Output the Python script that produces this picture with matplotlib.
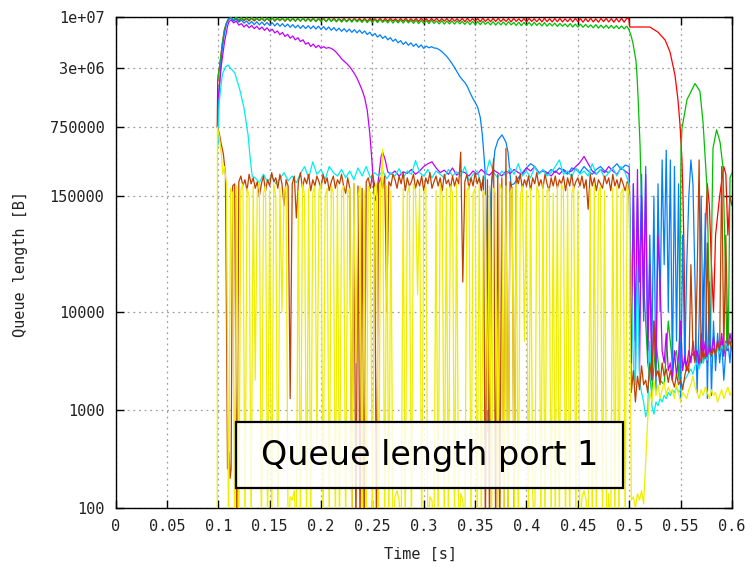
# -*- coding: utf-8 -*-
import numpy as np
import matplotlib
matplotlib.use('Agg')
import matplotlib.pyplot as plt
from matplotlib.patches import Rectangle
from matplotlib.ticker import FixedLocator, FixedFormatter, NullLocator

### queue occupancy of port 1 per flow, in kB
### (anything under 0.1 kB lies below the axis and gets clipped)
### evenly sampled stretches are given as start time + step + values

# ---- red flow
red_rise_t = [0.099, 0.0995, 0.102, 0.104, 0.106, 0.108, 0.110]
red_rise_kb = [760, 2300, 3600, 5400, 7400, 8700, 9500]
red_top_t0, red_top_dt = 0.1125, 0.0025
red_top_kb = [
    9700, 9150, 9750, 9100, 9700, 9150, 9650, 9100, 9700, 9100,
    9650, 9150, 9700, 9050, 9650, 9100, 9750, 9050, 9650, 9150,
    9700, 9050, 9650, 9100, 9700, 9050, 9600, 9100, 9700, 9050,
    9650, 9150, 9700, 9050, 9650, 9100, 9700, 9000, 9650, 9100,
    9700, 9050, 9600, 9100, 9700, 9000, 9650, 9050, 9700, 9100,
    9650, 9050, 9700, 9000, 9650, 9100, 9600, 9050, 9700, 9000,
    9650, 9050, 9700, 9100, 9600, 9000, 9650, 9050, 9700, 9000,
    9600, 9050, 9650, 9000, 9700, 9050, 9600, 9000, 9650, 9050,
    9700, 9000, 9600, 9050, 9650, 8950, 9700, 9050, 9600, 9000,
    9650, 8950, 9700, 9000, 9600, 9050, 9650, 8950, 9700, 9000,
    9600, 8950, 9650, 9000, 9700, 8950, 9600, 9000, 9650, 8900,
    9700, 9000, 9600, 8950, 9650, 8900, 9700, 9000, 9600, 8950,
    9650, 8900, 9700, 8950, 9600, 8900, 9650, 8950, 9700, 8900,
    9600, 8950, 9650, 8900, 9700, 8950, 9600, 8850, 9650, 8950,
    9700, 8900, 9600, 8850, 9650, 8950, 9700, 8900, 9600, 8850,
    9650, 8900, 9700, 8850, 9650]
red_end_t = [0.4995, 0.5005, 0.52, 0.528, 0.535, 0.5397, 0.5445, 0.5474,
             0.5494, 0.5513, 0.5523, 0.5533, 0.5545, 0.556, 0.56, 0.565,
             0.57, 0.574, 0.576, 0.578, 0.58, 0.582, 0.584, 0.588, 0.592,
             0.594, 0.596, 0.598, 0.6]
red_end_kb = [9700, 7900, 7900, 7000, 5800, 4390, 2560, 1440, 800, 350,
              150, 40, 3, 2.5, 3.5, 4, 3, 60, 200, 120,
              30, 10, 60, 150, 300, 250, 60, 150, 120]

# ---- green flow
green_rise_t = [0.0995, 0.102, 0.104, 0.106, 0.108, 0.110]
green_rise_kb = [2300, 3600, 5400, 7400, 8700, 9600]
green_top_t0, green_top_dt = 0.1125, 0.0025
green_top_kb = [
    9900, 9300, 9950, 9250, 9900, 9300, 9850, 9250, 9900, 9300,
    9800, 9200, 9850, 9150, 9800, 9200, 9850, 9150, 9800, 9200,
    9700, 9100, 9750, 9050, 9700, 9100, 9700, 9050, 9750, 9100,
    9600, 9000, 9650, 8950, 9600, 9000, 9600, 8950, 9650, 9000,
    9500, 8900, 9550, 8850, 9500, 8900, 9500, 8850, 9550, 8900,
    9400, 8800, 9450, 8750, 9400, 8800, 9400, 8750, 9450, 8800,
    9300, 8700, 9350, 8650, 9300, 8700, 9300, 8650, 9350, 8700,
    9200, 8600, 9250, 8550, 9200, 8600, 9200, 8550, 9250, 8600,
    9100, 8500, 9150, 8450, 9100, 8500, 9100, 8450, 9150, 8500,
    9000, 8400, 9050, 8350, 9000, 8400, 9000, 8350, 9050, 8400,
    8900, 8300, 8950, 8250, 8900, 8300, 8900, 8250, 8950, 8300,
    8800, 8200, 8850, 8150, 8800, 8200, 8800, 8150, 8850, 8200,
    8700, 8100, 8750, 8050, 8650, 8100, 8650, 8000, 8600, 8050,
    8500, 7950, 8550, 7900, 8450, 7900, 8450, 7850, 8400, 7850,
    8300, 7750, 8350, 7700, 8250, 7700, 8250, 7650, 8200, 7650,
    8150, 7600, 8100, 7550, 8050]
green_end_t = [0.4995, 0.5017, 0.5036, 0.5065, 0.5075, 0.5085, 0.5095,
               0.5105, 0.5114, 0.5124, 0.514, 0.518, 0.522, 0.526, 0.53,
               0.534, 0.538, 0.542, 0.546, 0.5485, 0.5504, 0.5513, 0.5562,
               0.564, 0.5688, 0.5718, 0.5737, 0.5757, 0.5776, 0.579,
               0.5805, 0.5815, 0.585, 0.5884, 0.5913, 0.5935, 0.595,
               0.5965, 0.5981, 0.6]
green_end_kb = [7500, 6500, 5400, 3600, 2600, 1600, 900, 500, 220, 100,
                20, 3, 1.5, 5, 2, 1.8, 8, 3, 4, 2,
                443, 730, 1440, 2100, 1750, 850, 400, 180, 20, 4,
                100, 460, 710, 530, 290, 30, 4, 6, 230, 260]

# ---- blue flow
blue_rise_t = [0.0995, 0.1, 0.102, 0.104, 0.106, 0.108, 0.110]
blue_rise_kb = [500, 1200, 2800, 4800, 6800, 8500, 9500]
blue_top_t0, blue_top_dt = 0.1125, 0.0025
blue_top_kb = [
    9800, 9100, 9500, 8850, 9300, 8650, 9100, 8450, 9000, 8350,
    8950, 8300, 8880, 8250, 8800, 8180, 8750, 8100, 8650, 8030,
    8550, 7950, 8450, 7850, 8350, 7750, 8250, 7650, 8200, 7620,
    8150, 7580, 8100, 7530, 8050, 7490, 7980, 7400, 7900, 7320,
    7800, 7230, 7700, 7140, 7600, 7060, 7520, 6970, 7430, 6890,
    7340, 6810, 7200, 6620, 6990, 6420, 6790, 6240, 6580, 6050,
    6380, 5850, 6160, 5650, 5950, 5450, 5740, 5260, 5570, 5140,
    5450, 5020, 5320, 4900, 5190, 4780, 5050, 4850, 4980, 4830]
blue_fall_t = [0.3125, 0.315, 0.3175, 0.32, 0.3225, 0.325, 0.3275, 0.33,
               0.3325, 0.335, 0.3375, 0.34, 0.3425, 0.345, 0.3475, 0.35,
               0.3525, 0.355, 0.357, 0.3585, 0.3596, 0.3605, 0.3615,
               0.3625, 0.3635, 0.365, 0.3664, 0.3693, 0.3723, 0.3762,
               0.38, 0.382, 0.385]
blue_fall_kb = [4800, 4650, 4450, 4200, 3950, 3650, 3350, 3050, 2750, 2480,
                2300, 2150, 1950, 1700, 1500, 1350, 1200, 950, 630, 400,
                277, 120, 42, 0.6, 15, 150, 219, 443, 560, 630,
                530, 420, 195]
blue_band_t0, blue_band_dt = 0.388, 0.004
blue_band_kb = [
    200, 230, 260, 290, 320, 300, 260, 270, 250, 280,
    260, 290, 270, 250, 290, 280, 260, 300, 270, 250,
    280, 300, 270, 260, 290, 320, 280, 310]
blue_end_t0, blue_end_dt = 0.5, 0.002
blue_end_kb = [
    300, 5, 200, 2.4, 150, 20, 250, 8, 300, 3,
    60, 4, 150, 1.5, 200, 10, 350, 30, 440, 10,
    350, 2, 300, 5, 200, 1.2, 60, 3, 30, 150,
    350, 200, 20, 1.5, 8, 150, 3, 100, 1.3, 20,
    1.4, 8, 2.5, 6, 3, 5, 2, 4, 5, 3,
    6]

# ---- magenta flow
mag_rise_t = [0.1, 0.103, 0.106, 0.109, 0.1105]
mag_rise_kb = [1500, 3200, 5500, 8000, 9000]
mag_top_t0, mag_top_dt = 0.1125, 0.0025
mag_top_kb = [
    9300, 8700, 9100, 8250, 8550, 7900, 8350, 7750, 8200, 7600,
    8050, 7450, 7900, 7300, 7750, 7140, 7500, 6870, 7200, 6600,
    6950, 6330, 6650, 6080, 6400, 5850, 6150, 5620, 5850, 5280,
    5480, 5000, 5300, 4870, 5150, 4800, 4980, 4800, 4880, 4780]
mag_fall_t = [0.2125, 0.215, 0.2175, 0.22, 0.2225, 0.225, 0.2275, 0.23,
              0.2325, 0.235, 0.2375, 0.24, 0.2425, 0.245, 0.2475, 0.2495,
              0.2515, 0.2535, 0.256, 0.2585, 0.26, 0.2625, 0.265]
mag_fall_kb = [4600, 4350, 4050, 3750, 3550, 3350, 3150, 2900, 2650, 2380,
               2080, 1800, 1500, 1120, 650, 351, 161, 135, 230, 380,
               420, 350, 264]
mag_band_t0, mag_band_dt = 0.268, 0.004
mag_band_kb = [
    250, 270, 240, 265, 255, 280, 250, 270, 300, 320,
    335, 290, 260, 275, 250, 290, 245, 270, 260, 240,
    270, 250, 280, 255, 245, 275, 260, 240, 270, 255,
    280, 260, 250, 290, 270, 300, 255, 275, 260, 240,
    270, 250, 280, 260, 270, 300, 330, 380, 320, 270,
    250, 280, 260, 300, 270, 250, 290, 270]
mag_end_t0, mag_end_dt = 0.5, 0.002
mag_end_kb = [
    250, 3, 200, 5, 280, 2.5, 150, 10, 250, 4,
    30, 2, 8, 3, 60, 20, 4, 3, 6, 2.5,
    3, 2, 4, 2.2, 3.5, 8, 2.5, 3.5, 2.8, 4,
    3, 5, 3.2, 4, 2.8, 6, 3.5, 5, 3, 4.5,
    3.8, 5.5, 3.5, 5, 4, 6, 3.5, 5, 4, 6,
    4.5]

# ---- cyan flow
cyan_rise_t = [0.0995, 0.101, 0.104, 0.107, 0.1095, 0.112, 0.116, 0.121,
               0.125, 0.129, 0.131, 0.133]
cyan_rise_kb = [500, 1400, 2600, 3100, 3240, 3000, 2700, 1810, 1190, 630,
                370, 240]
cyan_band_t0, cyan_band_dt = 0.136, 0.004
cyan_band_kb = [
    230, 205, 250, 210, 240, 200, 225, 260, 215, 240,
    205, 255, 300, 230, 335, 250, 280, 220, 300, 260,
    240, 280, 230, 270, 220, 290, 240, 300, 230, 260,
    240, 270, 225, 260, 240, 285, 230, 270, 250, 345,
    260, 240, 280, 230, 270, 250, 230, 280, 240, 265,
    240, 300, 215, 250, 270, 195, 240, 350, 260, 230,
    270, 240, 290, 250, 320, 240, 270, 230, 300, 250,
    280, 240, 260, 300, 350, 250, 270, 235, 290, 250,
    270, 240, 320, 250, 280, 230, 260, 290, 240, 300,
    260]
cyan_end_t0, cyan_end_dt = 0.5, 0.002
cyan_end_kb = [
    200, 20, 3, 1.8, 30, 2, 1.5, 1.2, 0.85, 1.0,
    5, 1.1, 0.9, 1.2, 1.1, 1.3, 1.2, 1.4, 1.3, 1.5,
    1.4, 1.6, 1.5, 1.7, 1.5, 1.6, 1.8, 2.0, 2.2, 2.4,
    2.6, 2.3, 2.8, 3.0, 2.6, 3.2, 3.0, 3.5, 3.2, 3.8,
    3.5, 4.0, 3.6, 4.2, 3.8, 4.5, 4.0, 4.8, 4.2, 5.0,
    4.5]

# ---- brown flow
brown_rise_t = [0.099, 0.101, 0.103, 0.105, 0.107, 0.109, 0.1105, 0.1115,
                0.1125]
brown_rise_kb = [760, 650, 500, 400, 250, 0.25, 0.37, 0.2, 0.25]
brown_band_t0, brown_band_dt = 0.114, 0.002
brown_band_kb = [
    190, 200, 0.05, 210, 240, 190, 220, 170, 250, 200,
    230, 180, 210, 150, 200, 240, 170, 220, 190, 260,
    210, 230, 180, 250, 200, 120, 220, 190, 1.3, 200,
    240, 90, 210, 260, 180, 230, 200, 250, 170, 220,
    190, 240, 210, 180, 250, 200, 230, 170, 210, 240,
    180, 220, 200, 250, 190, 160, 230, 180, 0.05, 200,
    0.05, 190, 0.05, 180, 0.05, 210, 230, 180, 250, 200,
    0.05, 200, 230, 180, 240, 10, 210, 190, 250, 220,
    180, 240, 200, 260, 170, 230, 190, 210, 250, 180,
    220, 190, 240, 170, 230, 200, 260, 180, 210, 240,
    190, 230, 170, 250, 200, 220, 180, 240, 190, 230,
    200, 420, 20, 210, 250, 180, 230, 190, 260, 200,
    230, 170, 240, 0.05, 220, 0.05, 200, 360, 0.05, 250,
    0.05, 230, 0.05, 460, 0.05, 210, 180, 0.05, 240, 200,
    250, 180, 220, 190, 240, 170, 230, 200, 260, 190,
    220, 180, 250, 200, 170, 230, 190, 240, 180, 220,
    200, 240, 170, 230, 190, 250, 180, 210, 230, 190,
    240, 180, 220, 110, 250, 190, 230, 170, 220, 200,
    180, 240, 200, 230, 170, 250, 190, 220, 180, 230,
    200, 170, 210]
brown_end_t0, brown_end_dt = 0.5, 0.002
brown_end_kb = [
    160, 1.5, 2.5, 1.2, 2.2, 1.6, 2.8, 1.8, 2.0, 1.5,
    3, 2, 8, 2.2, 2.5, 1.8, 3, 2.2, 2.6, 1.9,
    2.5, 2, 1.7, 2.3, 1.8, 2.0, 1.6, 2.2, 2.8, 2.4,
    30, 4, 3, 20, 350, 3, 4, 3.3, 50, 4,
    3.5, 4.2, 3.6, 5, 4, 300, 3.8, 60, 4.5, 5,
    4]

# ---- yellow flow
yellow_rise_t = [0.099, 0.0992, 0.101, 0.103, 0.1045]
yellow_rise_kb = [0.05, 760, 600, 400, 250]
yellow_band_t0, yellow_band_dt = 0.106, 0.002
yellow_band_kb = [
    300, 200, 0.05, 180, 160, 0.05, 190, 0.05, 170, 200,
    0.05, 180, 150, 0.05, 190, 2, 170, 210, 0.05, 160,
    190, 0.05, 170, 0.05, 200, 150, 0.05, 180, 10, 160,
    190, 0.05, 0.13, 0.12, 0.15, 0.05, 170, 0.05, 200, 150,
    0.05, 180, 0.05, 160, 190, 0.4, 170, 200, 0.05, 150,
    180, 0.05, 190, 160, 0.05, 200, 0.05, 170, 190, 0.05,
    160, 180, 0.05, 200, 3, 150, 190, 0.05, 170, 0.05,
    190, 160, 0.05, 180, 200, 0.05, 170, 450, 0.05, 190,
    0.05, 170, 0.05, 0.13, 0.15, 0.12, 0.05, 180, 0.05, 160,
    190, 0.05, 200, 170, 15, 180, 0.05, 160, 190, 0.05,
    0.13, 0.12, 0.05, 170, 0.05, 200, 150, 0.05, 180, 0.05,
    190, 160, 0.05, 200, 0.05, 0.14, 0.12, 0.05, 170, 190,
    0.05, 160, 180, 0.05, 200, 0.05, 170, 150, 1, 190,
    0.05, 180, 160, 0.05, 200, 170, 0.05, 190, 0.05, 160,
    180, 0.05, 200, 0.05, 150, 190, 5, 170, 0.05, 180,
    0.14, 0.05, 190, 160, 0.05, 200, 0.05, 170, 180, 0.05,
    160, 0.05, 190, 0.05, 200, 170, 0.05, 180, 0.05, 160,
    190, 0.05, 170, 0.05, 0.13, 0.15, 0.12, 0.05, 180, 0.05,
    200, 0.05, 160, 190, 0.05, 170, 0.05, 0.14, 0.05, 180,
    0.05, 190, 0.05, 160, 180, 0.05, 200]
yellow_end_t0, yellow_end_dt = 0.5, 0.002
yellow_end_kb = [
    150, 0.12, 0.13, 0.1, 0.14, 0.12, 0.15, 0.11, 0.3, 0.8,
    1.5, 1.2, 2.0, 1.4, 1.8, 1.3, 1.6, 1.9, 1.4, 1.7,
    1.5, 1.6, 1.3, 1.8, 1.5, 1.2, 1.5, 1.4, 1.3, 1.6,
    1.8, 2.2, 1.7, 1.5, 1.3, 1.6, 1.4, 1.7, 1.5, 1.3,
    1.6, 1.4, 1.5, 1.2, 1.4, 1.6, 1.3, 1.5, 1.7, 1.4,
    1.6]

x_ticks = [0, 0.05, 0.1, 0.15, 0.2, 0.25, 0.3, 0.35, 0.4, 0.45, 0.5, 0.55, 0.6]
x_labels = ['0', '0.05', '0.1', '0.15', '0.2', '0.25', '0.3', '0.35', '0.4',
            '0.45', '0.5', '0.55', '0.6']
y_ticks = [100, 1000, 10000, 150000, 750000, 3e6, 1e7]
y_labels = ['100', '1000', '10000', '150000', '750000', '3e+06', '1e+07']


def sampled(t0, dt, vals):
    return (t0 + dt * np.arange(len(vals)), vals)


def build(*parts):
    t = np.concatenate([np.asarray(p[0], float) for p in parts])
    q = np.concatenate([np.asarray(p[1], float) for p in parts])
    return t, q * 1e3   # kB -> B


series = [
    (build((red_rise_t, red_rise_kb),
           sampled(red_top_t0, red_top_dt, red_top_kb),
           (red_end_t, red_end_kb)), '#ff0000'),
    (build((green_rise_t, green_rise_kb),
           sampled(green_top_t0, green_top_dt, green_top_kb),
           (green_end_t, green_end_kb)), '#00c000'),
    (build((blue_rise_t, blue_rise_kb),
           sampled(blue_top_t0, blue_top_dt, blue_top_kb),
           (blue_fall_t, blue_fall_kb),
           sampled(blue_band_t0, blue_band_dt, blue_band_kb),
           sampled(blue_end_t0, blue_end_dt, blue_end_kb)), '#0080ff'),
    (build((mag_rise_t, mag_rise_kb),
           sampled(mag_top_t0, mag_top_dt, mag_top_kb),
           (mag_fall_t, mag_fall_kb),
           sampled(mag_band_t0, mag_band_dt, mag_band_kb),
           sampled(mag_end_t0, mag_end_dt, mag_end_kb)), '#c000ff'),
    (build((cyan_rise_t, cyan_rise_kb),
           sampled(cyan_band_t0, cyan_band_dt, cyan_band_kb),
           sampled(cyan_end_t0, cyan_end_dt, cyan_end_kb)), '#00eeee'),
    (build((brown_rise_t, brown_rise_kb),
           sampled(brown_band_t0, brown_band_dt, brown_band_kb),
           sampled(brown_end_t0, brown_end_dt, brown_end_kb)), '#c04000'),
    (build((yellow_rise_t, yellow_rise_kb),
           sampled(yellow_band_t0, yellow_band_dt, yellow_band_kb),
           sampled(yellow_end_t0, yellow_end_dt, yellow_end_kb)), '#eeee00'),
]

mono = 'DejaVu Sans Mono'
fig = plt.figure(figsize=(7.53, 5.67), dpi=100)
ax = fig.add_axes([0.1534, 0.1041, 0.8187, 0.8660])

for (t, q), c in series:
    ax.plot(t, q, color=c, lw=0.9, zorder=3)

ax.set_yscale('log')
ax.set_xlim(0, 0.6)
ax.set_ylim(100, 1e7)
ax.xaxis.set_major_locator(FixedLocator(x_ticks))
ax.xaxis.set_major_formatter(FixedFormatter(x_labels))
ax.yaxis.set_major_locator(FixedLocator(y_ticks))
ax.yaxis.set_major_formatter(FixedFormatter(y_labels))
ax.yaxis.set_minor_locator(NullLocator())
ax.xaxis.set_minor_locator(NullLocator())

ax.tick_params(direction='in', length=6, width=1, top=True, right=True,
               labelsize=11, colors='black', pad=8)
for lab in ax.get_xticklabels() + ax.get_yticklabels():
    lab.set_family(mono)
    lab.set_color('#222222')
for sp in ax.spines.values():
    sp.set_linewidth(1.0)

ax.grid(True, color='#a0a0a0', lw=0.9, linestyle=(0, (1.5, 3)), zorder=1)
ax.set_axisbelow(True)

fig.text(0.027, 0.535, 'Queue length [B]', rotation=90, ha='center',
         va='center', family=mono, fontsize=11, color='#222222')
fig.text(0.559, 0.022, 'Time [s]', ha='center', va='center', family=mono,
         fontsize=11, color='#222222')

### caption box over the lower part of the plot
ax.add_patch(Rectangle((0.195, 0.041), 0.628, 0.134, transform=ax.transAxes,
                       facecolor=(1, 1, 1, 0.85), edgecolor='black', lw=1.6,
                       zorder=5))
ax.text(0.509, 0.107, 'Queue length port 1', transform=ax.transAxes,
        ha='center', va='center', fontsize=24, color='black', zorder=6)

fig.savefig('out.png', dpi=100)
